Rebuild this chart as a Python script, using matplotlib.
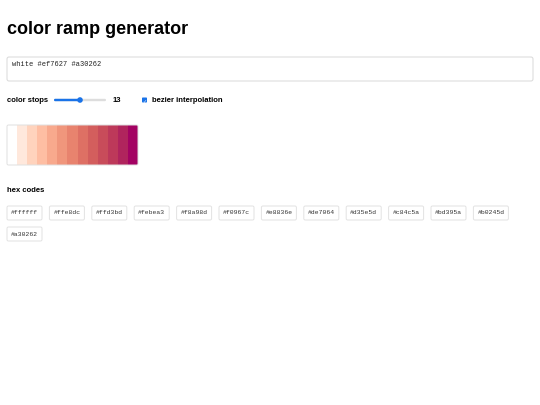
import matplotlib.pyplot as plt
from matplotlib.patches import Rectangle, FancyBboxPatch, Circle

hex_codes = ["#ffffff", "#ffe8dc", "#ffd3bd", "#febea3", "#f8a98d", "#f0967c",
             "#e8836e", "#de7064", "#d35e5d", "#c84c5a", "#bd395a", "#b0245d",
             "#a30262"]
input_text = "white #ef7627 #a30262"
n_stops = 13

fig = plt.figure(figsize=(5.4, 4.05), dpi=100)
ax = fig.add_axes([0, 0, 1, 1])
ax.set_xlim(0, 540)
ax.set_ylim(405, 0)
ax.axis("off")

sans = "Liberation Sans"
mono = "Liberation Mono"

ax.text(7, 30, "color ramp generator", fontsize=13, fontweight="bold",
        family=sans, va="center", ha="left")

# text area
ax.add_patch(FancyBboxPatch((7, 57), 526, 24, boxstyle="round,pad=0,rounding_size=2",
                            fc="white", ec="#d8d8d8", lw=0.7))
ax.text(12, 65, input_text, fontsize=5, family=mono, va="center", color="#222222")

# controls
ax.text(7, 100, "color stops", fontsize=5.5, fontweight="bold", family=sans, va="center")
ax.add_patch(FancyBboxPatch((54, 98.8), 52, 2.4, boxstyle="round,pad=0,rounding_size=1.2",
                            fc="#dddddd", ec="none"))
ax.add_patch(FancyBboxPatch((54, 98.8), 26, 2.4, boxstyle="round,pad=0,rounding_size=1.2",
                            fc="#1a73e8", ec="none"))
ax.add_patch(Circle((80, 100), 2.8, fc="#1a73e8", ec="none"))
ax.text(113, 100, str(n_stops), fontsize=5.5, fontweight="bold", family=sans, va="center")
ax.add_patch(FancyBboxPatch((142, 97.5), 5, 5, boxstyle="round,pad=0,rounding_size=0.8",
                            fc="#1a73e8", ec="none"))
ax.text(144.5, 100.3, "✓", fontsize=3.5, color="white", ha="center", va="center")
ax.text(152, 100, "bezier interpolation", fontsize=5.5, fontweight="bold", family=sans, va="center")

# ramp
sw = 131 / len(hex_codes)
ax.add_patch(FancyBboxPatch((7, 125), 131, 40, boxstyle="round,pad=0,rounding_size=1.5",
                            fc="none", ec="#e0e0e0", lw=0.7, zorder=3))
for i, c in enumerate(hex_codes):
    ax.add_patch(Rectangle((7 + i * sw, 125), sw + 0.3, 40, fc=c, ec="none"))

ax.text(7, 191, "hex codes", fontsize=5.5, fontweight="bold", family=sans, va="center")

# chips
step = 42.4
per_row = 12
for i, c in enumerate(hex_codes):
    r, k = divmod(i, per_row)
    x = 7 + k * step
    y = 206 + r * 21
    ax.add_patch(FancyBboxPatch((x, y), 35, 14, boxstyle="round,pad=0,rounding_size=1.5",
                                fc="white", ec="#e2e2e2", lw=0.7))
    ax.text(x + 17.5, y + 7, c, fontsize=4.6, family=mono, ha="center", va="center",
            color="#333333")

fig.savefig("out.png", dpi=100)
